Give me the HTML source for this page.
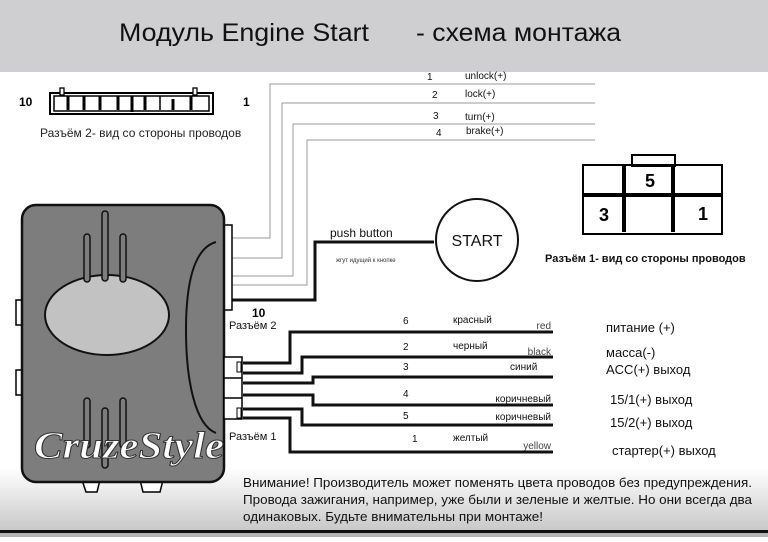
<!DOCTYPE html>
<html><head><meta charset="utf-8"><style>
html,body{margin:0;padding:0;background:#fff}
body{width:768px;height:537px;overflow:hidden;position:relative;font-family:"Liberation Sans","Noto Sans CJK SC",sans-serif}
</style></head><body>
<svg width="768" height="537" viewBox="0 0 768 537" xmlns="http://www.w3.org/2000/svg" font-family="Liberation Sans, Noto Sans CJK SC, sans-serif">
<defs><linearGradient id="g" x1="0" y1="0" x2="0" y2="1"><stop offset="0" stop-color="#fff"/><stop offset="1" stop-color="#c8c8c8"/></linearGradient></defs>
<rect x="0" y="0" width="768" height="72" fill="#cfcfd1"/>
<text x="119" y="41" font-size="25" fill="#111" textLength="250" lengthAdjust="spacingAndGlyphs">Модуль Engine Start</text>
<text x="416" y="41" font-size="25" fill="#111" textLength="205" lengthAdjust="spacingAndGlyphs">- схема монтажа</text>
<rect x="0" y="468" width="768" height="63" fill="url(#g)"/>
<rect x="0" y="530" width="768" height="3" fill="#111"/>
<rect x="0" y="533" width="768" height="4" fill="#b5b5b5"/>
<!-- connector 2 -->
<text x="19" y="106" font-size="12" font-weight="bold">10</text>
<text x="243" y="106" font-size="12" font-weight="bold">1</text>
<rect x="50" y="93" width="163" height="21" fill="none" stroke="#000" stroke-width="2"/>
<rect x="54" y="96" width="155" height="15" fill="none" stroke="#000" stroke-width="1.5"/>
<rect x="60" y="88" width="4" height="7" fill="#fff" stroke="#000" stroke-width="1.3"/>
<rect x="193" y="88" width="4" height="7" fill="#fff" stroke="#000" stroke-width="1.3"/>
<g stroke="#000" stroke-width="3"><line x1="68" y1="96" x2="68" y2="110"/><line x1="84" y1="96" x2="84" y2="110"/><line x1="100" y1="96" x2="100" y2="110"/><line x1="118" y1="96" x2="118" y2="110"/><line x1="132" y1="96" x2="132" y2="112"/><line x1="145" y1="96" x2="145" y2="110"/><line x1="173" y1="99" x2="173" y2="110"/><line x1="191" y1="96" x2="191" y2="110"/></g>
<line x1="160" y1="96" x2="160" y2="110" stroke="#000" stroke-width="1.5"/>
<text x="40" y="137" font-size="12" fill="#222">Разъём 2- вид со стороны проводов</text>
<!-- top gray wires -->
<g fill="none" stroke="#999" stroke-width="1">
<polyline points="224,238 270,238 270,84 595,84"/>
<polyline points="224,258 282,258 282,103 595,103"/>
<polyline points="224,276 293,276 293,124 595,124"/>
<polyline points="224,285 307,285 307,140 595,140"/>
</g>
<g font-size="10" fill="#111"><text x="427" y="80">1</text><text x="465" y="79">unlock(+)</text>
<text x="432" y="98">2</text><text x="465" y="97">lock(+)</text>
<text x="433" y="119">3</text><text x="465" y="120">turn(+)</text>
<text x="436" y="136">4</text><text x="466" y="134">brake(+)</text></g>
<!-- push button -->
<polyline points="226,300 315,300 315,242 434,242" fill="none" stroke="#111" stroke-width="3"/>
<text x="330" y="237" font-size="12" fill="#111">push button</text>
<text x="336" y="262" font-size="6" fill="#333">жгут идущий к кнопке</text>
<circle cx="477" cy="240" r="41" fill="#fff" stroke="#111" stroke-width="2"/>
<text x="477" y="246" font-size="16" text-anchor="middle" fill="#111">START</text>
<!-- connector 1 -->
<rect x="632" y="155" width="43" height="11" fill="#fff" stroke="#000" stroke-width="2"/>
<rect x="583" y="165" width="139" height="69" fill="none" stroke="#000" stroke-width="2"/>
<line x1="583" y1="195" x2="722" y2="195" stroke="#000" stroke-width="4"/>
<line x1="624" y1="165" x2="624" y2="232" stroke="#000" stroke-width="4"/>
<line x1="673" y1="165" x2="673" y2="232" stroke="#000" stroke-width="4"/>
<g font-size="18" font-weight="bold"><text x="645" y="187">5</text><text x="599" y="221">3</text><text x="698" y="220">1</text></g>
<text x="545" y="262" font-size="11" font-weight="bold" fill="#111">Разъём 1- вид со стороны проводов</text>
<!-- module -->
<rect x="16" y="300" width="8" height="25" fill="#fff" stroke="#000" stroke-width="1.5"/>
<rect x="16" y="370" width="8" height="25" fill="#fff" stroke="#000" stroke-width="1.5"/>
<path d="M82 480 L86 492 L97 492 L100 480Z M140 480 L143 492 L160 492 L163 480Z" fill="#fff" stroke="#000" stroke-width="1.5"/>
<rect x="221" y="225" width="11" height="85" fill="#fff" stroke="#000" stroke-width="1.5"/>
<rect x="22" y="205" width="202" height="277" rx="14" fill="#7d7d7d" stroke="#111" stroke-width="2.5"/>
<ellipse cx="107" cy="315" rx="62" ry="40" fill="#c2c2c2" stroke="#111" stroke-width="2"/>
<g fill="#7d7d7d" stroke="#111" stroke-width="1.5">
<rect x="102" y="211" width="6" height="70" rx="3"/><rect x="84" y="234" width="6" height="48" rx="3"/><rect x="120" y="234" width="6" height="48" rx="3"/>
<rect x="84" y="398" width="6" height="50" rx="3"/><rect x="102" y="408" width="6" height="60" rx="3"/><rect x="120" y="398" width="6" height="50" rx="3"/></g>
<path d="M216 242 C195 248 186 280 186 330 C186 380 195 425 216 433" fill="none" stroke="#111" stroke-width="2"/>
<text x="34" y="458" font-size="38" font-weight="bold" font-style="italic" font-family="Liberation Serif, serif" fill="#fff" stroke="#333" stroke-width="1" textLength="190" lengthAdjust="spacingAndGlyphs">CruzeStyle</text>
<!-- bottom connector -->
<rect x="224" y="357" width="18" height="62" fill="#fff" stroke="#000" stroke-width="1.5"/>
<line x1="224" y1="378" x2="242" y2="378" stroke="#000" stroke-width="1.5"/>
<line x1="224" y1="398" x2="242" y2="398" stroke="#000" stroke-width="1.5"/>
<rect x="237" y="362" width="4" height="10" fill="#fff" stroke="#000"/>
<rect x="237" y="408" width="4" height="10" fill="#fff" stroke="#000"/>
<text x="252" y="317" font-size="12" font-weight="bold">10</text>
<text x="229" y="329" font-size="11" fill="#111">Разъём 2</text>
<text x="229" y="440" font-size="11" fill="#111">Разъём 1</text>
<g fill="none" stroke="#111" stroke-width="3">
<polyline points="243,363 290,363 290,332 553,332"/>
<polyline points="243,373 302,373 302,357 553,357"/>
<polyline points="243,383 313,383 313,377 553,377"/>
<polyline points="243,395 313,395 313,405 553,405"/>
<polyline points="243,409 302,409 302,425 553,425"/>
<polyline points="243,418 290,418 290,452 553,452"/>
</g>
<g font-size="10" fill="#111">
<text x="403" y="324">6</text><text x="453" y="323">красный</text><text x="551" y="329" text-anchor="end" fill="#444">red</text>
<text x="403" y="350">2</text><text x="453" y="349">черный</text><text x="551" y="355" text-anchor="end" fill="#444">black</text>
<text x="403" y="370">3</text><text x="510" y="370">синий</text>
<text x="403" y="397">4</text><text x="551" y="402" text-anchor="end">коричневый</text>
<text x="403" y="419">5</text><text x="551" y="420" text-anchor="end">коричневый</text>
<text x="412" y="442">1</text><text x="453" y="441">желтый</text><text x="551" y="449" text-anchor="end" fill="#444">yellow</text>
</g>
<g font-size="13" fill="#111">
<text x="606" y="332">питание (+)</text>
<text x="606" y="357">масса(-)</text>
<text x="606" y="374">ACC(+) выход</text>
<text x="610" y="404">15/1(+) выход</text>
<text x="610" y="427">15/2(+) выход</text>
<text x="612" y="455">стартер(+) выход</text>
</g>
<g font-size="12.5" fill="#111">
<text x="243" y="487" textLength="509" lengthAdjust="spacingAndGlyphs">Внимание! Производитель может поменять цвета проводов без предупреждения.</text>
<text x="243" y="504" textLength="509" lengthAdjust="spacingAndGlyphs">Провода зажигания, например, уже были и зеленые и желтые. Но они всегда два</text>
<text x="243" y="521" textLength="300" lengthAdjust="spacingAndGlyphs">одинаковых. Будьте внимательны при монтаже!</text>
</g>
</svg>
</body></html>
